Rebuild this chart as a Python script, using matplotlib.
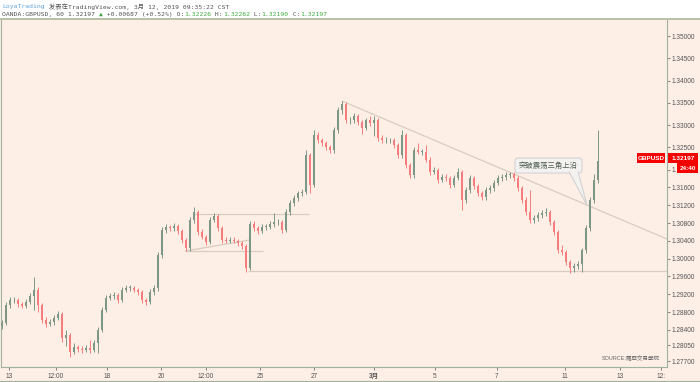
import matplotlib
matplotlib.use("Agg")
import matplotlib.pyplot as plt
from matplotlib.patches import Rectangle, FancyBboxPatch, Polygon
from matplotlib.lines import Line2D
from matplotlib.transforms import IdentityTransform
import numpy as np

plt.rcParams['font.family'] = ['Liberation Sans', 'Noto Sans CJK SC', 'DejaVu Sans']

# ---------------- data (hourly GBPUSD, sampled as bars) ----------------
first_open = 1.2848
closes = [1.2855, 1.2896, 1.2907, 1.2907, 1.2898, 1.2894, 1.2903, 1.2916, 1.2930, 1.2896,
          1.2862, 1.2853, 1.2858, 1.2867, 1.2876, 1.2822, 1.2828, 1.2790, 1.2802, 1.2797,
          1.2795, 1.2799, 1.2795, 1.2811, 1.2840, 1.2885, 1.2912, 1.2916, 1.2918, 1.2907,
          1.2930, 1.2934, 1.2934, 1.2930, 1.2925, 1.2907, 1.2903, 1.2925, 1.2934, 1.3008,
          1.3064, 1.3071, 1.3069, 1.3073, 1.3062, 1.3042, 1.3024, 1.3087, 1.3105, 1.3060,
          1.3049, 1.3037, 1.3087, 1.3096, 1.3069, 1.3042, 1.3040, 1.3042, 1.3040, 1.3035,
          1.3028, 1.2979, 1.3078, 1.3069, 1.3062, 1.3071, 1.3071, 1.3078, 1.3082, 1.3082,
          1.3064, 1.3105, 1.3125, 1.3136, 1.3147, 1.3150, 1.3233, 1.3165, 1.3278, 1.3266,
          1.3260, 1.3251, 1.3244, 1.3289, 1.3334, 1.3347, 1.3311, 1.3311, 1.3320, 1.3307,
          1.3293, 1.3311, 1.3305, 1.3311, 1.3271, 1.3266, 1.3266, 1.3266, 1.3255, 1.3233,
          1.3278, 1.3210, 1.3188, 1.3244, 1.3240, 1.3240, 1.3222, 1.3195, 1.3199, 1.3177,
          1.3183, 1.3181, 1.3165, 1.3181, 1.3195, 1.3132, 1.3154, 1.3181, 1.3163, 1.3147,
          1.3138, 1.3154, 1.3159, 1.3170, 1.3181, 1.3183, 1.3188, 1.3190, 1.3181, 1.3159,
          1.3132, 1.3105, 1.3087, 1.3091, 1.3098, 1.3103, 1.3105, 1.3082, 1.3060, 1.3019,
          1.3015, 1.2992, 1.2979, 1.2983, 1.2988, 1.3019, 1.3069, 1.3132, 1.3177, 1.3220]
highs = [1.2862, 1.2903, 1.2914, 1.2913, 1.2912, 1.2903, 1.2909, 1.2922, 1.2959, 1.2936,
         1.2900, 1.2868, 1.2864, 1.2873, 1.2882, 1.2880, 1.2839, 1.2832, 1.2810, 1.2807,
         1.2803, 1.2806, 1.2817, 1.2817, 1.2846, 1.2892, 1.2918, 1.2922, 1.2925, 1.2922,
         1.2937, 1.2940, 1.2940, 1.2939, 1.2935, 1.2929, 1.2912, 1.2931, 1.2941, 1.3014,
         1.3070, 1.3078, 1.3076, 1.3080, 1.3077, 1.3066, 1.3046, 1.3093, 1.3116, 1.3110,
         1.3066, 1.3054, 1.3093, 1.3103, 1.3100, 1.3073, 1.3049, 1.3049, 1.3048, 1.3045,
         1.3040, 1.3032, 1.3085, 1.3084, 1.3074, 1.3078, 1.3078, 1.3084, 1.3103, 1.3089,
         1.3087, 1.3111, 1.3131, 1.3142, 1.3153, 1.3157, 1.3244, 1.3238, 1.3289, 1.3284,
         1.3272, 1.3265, 1.3256, 1.3295, 1.3340, 1.3354, 1.3351, 1.3318, 1.3326, 1.3324,
         1.3312, 1.3317, 1.3320, 1.3320, 1.3316, 1.3277, 1.3273, 1.3272, 1.3271, 1.3259,
         1.3289, 1.3282, 1.3215, 1.3250, 1.3260, 1.3247, 1.3255, 1.3228, 1.3206, 1.3204,
         1.3190, 1.3189, 1.3186, 1.3188, 1.3203, 1.3200, 1.3160, 1.3188, 1.3186, 1.3168,
         1.3153, 1.3160, 1.3166, 1.3177, 1.3187, 1.3190, 1.3194, 1.3195, 1.3195, 1.3186,
         1.3164, 1.3138, 1.3154, 1.3098, 1.3105, 1.3109, 1.3114, 1.3110, 1.3087, 1.3065,
         1.3030, 1.3020, 1.2997, 1.2990, 1.2995, 1.3025, 1.3076, 1.3139, 1.3190, 1.3289]
lows = [1.2843, 1.2850, 1.2890, 1.2900, 1.2892, 1.2888, 1.2889, 1.2898, 1.2885, 1.2880,
        1.2855, 1.2846, 1.2848, 1.2852, 1.2862, 1.2812, 1.2804, 1.2779, 1.2785, 1.2790,
        1.2789, 1.2790, 1.2788, 1.2790, 1.2788, 1.2835, 1.2880, 1.2906, 1.2910, 1.2900,
        1.2902, 1.2925, 1.2927, 1.2924, 1.2918, 1.2901, 1.2896, 1.2898, 1.2918, 1.2928,
        1.3002, 1.3058, 1.3062, 1.3063, 1.3056, 1.3036, 1.3017, 1.3018, 1.3080, 1.3054,
        1.3043, 1.3030, 1.3032, 1.3082, 1.3062, 1.3036, 1.3034, 1.3035, 1.3034, 1.3029,
        1.3021, 1.2970, 1.2975, 1.3063, 1.3056, 1.3057, 1.3065, 1.3066, 1.3072, 1.3075,
        1.3057, 1.3059, 1.3099, 1.3118, 1.3130, 1.3141, 1.3145, 1.3147, 1.3160, 1.3260,
        1.3254, 1.3245, 1.3238, 1.3238, 1.3283, 1.3325, 1.3305, 1.3303, 1.3305, 1.3300,
        1.3280, 1.3288, 1.3298, 1.3275, 1.3265, 1.3260, 1.3259, 1.3259, 1.3249, 1.3227,
        1.3227, 1.3204, 1.3181, 1.3182, 1.3234, 1.3233, 1.3216, 1.3188, 1.3189, 1.3171,
        1.3172, 1.3174, 1.3158, 1.3160, 1.3176, 1.3110, 1.3125, 1.3148, 1.3157, 1.3140,
        1.3131, 1.3132, 1.3148, 1.3153, 1.3165, 1.3175, 1.3177, 1.3182, 1.3175, 1.3152,
        1.3125, 1.3098, 1.3081, 1.3080, 1.3085, 1.3092, 1.3096, 1.3075, 1.3053, 1.3012,
        1.3008, 1.2985, 1.2968, 1.2970, 1.2977, 1.2970, 1.3012, 1.3062, 1.3125, 1.3170]

x_tick_pos = [1.75, 13.5, 26.25, 39.75, 51.0, 64.5, 78.0, 93.0, 108.25, 123.75, 140.75, 154.5, 164.75]
x_tick_labels = ["13", "12:00", "18", "20", "12:00", "25", "27", "3月", "5", "7", "11", "13", "12:"]
y_tick_vals = [1.35, 1.345, 1.34, 1.335, 1.33, 1.325, 1.32, 1.316, 1.312, 1.308, 1.304,
               1.300, 1.296, 1.292, 1.288, 1.284, 1.2805, 1.277]
# the 1.32000 label is hidden behind the countdown box; only "1." shows
y_tick_labels = ["1.35000", "1.34500", "1.34000", "1.33500", "1.33000", "1.32500", "1.",
                 "1.31600", "1.31200", "1.30800", "1.30400", "1.30000", "1.29600", "1.29200",
                 "1.28800", "1.28400", "1.28050", "1.27700"]

# drawing objects (bar index, price)
triangle_top = [(47.75, 1.3100), (76.75, 1.3100)]
triangle_slope = [(45.75, 1.3017), (62.0, 1.3042)]
triangle_base = [(45.75, 1.3017), (65.25, 1.3017)]
support_line = [(61.5, 1.2972), (166.25, 1.2972)]
down_trend = [(85.0, 1.3354), (166.25, 1.3044)]

last_price = "1.32197"
symbol = "GBPUSD"
countdown = "24:40"
callout_text = "突破震荡三角上沿"
callout_target = (146.25, 1.3120)

BG = "#fdeee6"
UP = "#7d9786"
DOWN = "#f57d7d"
DRAW = "#d8cdbf"
AX = "#9fb39f"
W, H = 700, 382

fig = plt.figure(figsize=(7, 3.82), dpi=100, facecolor=BG)
ax = fig.add_axes([1 / W, 15 / H, 666 / W, 347 / H])
ax.set_facecolor(BG)

# candles
closes_a = np.array(closes)
opens_a = np.concatenate([[first_open], closes_a[:-1]])
highs_a = np.array(highs)
lows_a = np.array(lows)
idx = np.arange(len(closes_a))
up = closes_a >= opens_a
cols = np.where(up, UP, DOWN)
ax.vlines(idx, lows_a, highs_a, colors=cols, linewidth=0.7, zorder=3)
body_lo = np.minimum(opens_a, closes_a)
body_h = np.maximum(np.abs(closes_a - opens_a), 0.00012)
ax.bar(idx, body_h, bottom=body_lo, width=0.7, color=cols, linewidth=0, zorder=3)

for seg in [triangle_top, triangle_slope, triangle_base, support_line, down_trend]:
    xs, ys = zip(*seg)
    ax.plot(xs, ys, color=DRAW, linewidth=0.9, zorder=2, solid_capstyle='butt')

ax.set_xlim(-0.25, 166.25)
ax.set_ylim(1.27566, 1.35360)

ax.yaxis.tick_right()
ax.set_yticks(y_tick_vals)
ax.set_yticklabels(y_tick_labels)
ax.set_xticks(x_tick_pos)
ax.set_xticklabels(x_tick_labels)
ax.tick_params(axis='y', labelsize=4.7, colors='#555555', length=2, width=0.5, pad=1.5)
ax.tick_params(axis='x', labelsize=4.7, colors='#555555', length=2, width=0.5, pad=2.5)
for lab in ax.get_xticklabels():
    if lab.get_text() == "3月":
        lab.set_fontweight('bold')
for side in ['left', 'right', 'bottom']:
    ax.spines[side].set_color(AX)
    ax.spines[side].set_linewidth(0.8)
ax.spines['top'].set_visible(False)

def P(x, y):
    return (x / W, 1 - y / H)

# header
fig.add_artist(Rectangle(P(0, 18.5), 1, 18.5 / H, transform=fig.transFigure,
                         facecolor='white', edgecolor='none', zorder=0.5))
fig.add_artist(Line2D([0, 1], [1 - 18.8 / H] * 2, transform=fig.transFigure,
                      color='#b9c0a8', linewidth=1.4))
fig.add_artist(Line2D([0, 1], [0.6 / H] * 2, transform=fig.transFigure,
                      color=AX, linewidth=0.8))

hdr_font = ['DejaVu Sans Mono', 'Noto Sans CJK SC']
line1 = [("LoyaTrading", "#5da2d8"), (" 发表在TradingView.com, 3月 12, 2019 09:35:22 CST", "#555555")]
line2 = [("OANDA:GBPUSD, 60 1.32197 ", "#555555"), ("▲", "#3f9f3f"), (" +0.00687 (+0.52%) O:", "#555555"),
         ("1.32226", "#3fae3f"), (" H:", "#555555"), ("1.32262", "#3fae3f"), (" L:", "#555555"),
         ("1.32190", "#3fae3f"), (" C:", "#555555"), ("1.32197", "#3fae3f")]
fig.canvas.draw()
renderer = fig.canvas.get_renderer()
for segs, yy in [(line1, 6.5), (line2, 14.5)]:
    xx = 2
    for s, c in segs:
        t = fig.text(*P(xx, yy), s, fontsize=4.55, color=c, family=hdr_font, va='center', ha='left')
        bb = t.get_window_extent(renderer)
        xx += bb.width

# price labels
def redbox(x0, y0, x1, y1, txt):
    fig.add_artist(Rectangle(P(x0, y1), (x1 - x0) / W, (y1 - y0) / H, transform=fig.transFigure,
                             facecolor='#f40000', edgecolor='none', zorder=5))
    fig.text(*P((x0 + x1) / 2, (y0 + y1) / 2 + 0.3), txt, color='white', fontsize=4.6,
             ha='center', va='center', zorder=6, fontweight='bold')

redbox(637, 153, 665, 163, symbol)
redbox(668, 153, 698, 163, last_price)
redbox(677, 163, 698, 173, countdown)

# callout
idt = IdentityTransform()
box = FancyBboxPatch((515, H - 173), 67, 15, boxstyle="round,pad=0,rounding_size=3",
                     facecolor='#f4f2f0', edgecolor='#d3d3d3', linewidth=0.8,
                     transform=idt, zorder=6)
fig.add_artist(box)
tx, ty = ax.transData.transform(callout_target)
tail = Polygon([(569, H - 171.5), (tx, ty), (578, H - 171.5)], closed=False,
               facecolor='#f4f2f0', edgecolor='#d3d3d3', linewidth=0.8, transform=idt, zorder=7)
fig.add_artist(tail)
fig.text(*P(548.5, 165.5), callout_text, fontsize=5.3, color='#4d5c52', ha='center', va='center',
         family=['Noto Sans CJK SC', 'DejaVu Sans'], zorder=8)

# watermark
fig.text(*P(660, 358), "SOURCE:羅亞交易學院", fontsize=4.0, color='#666666', ha='right', va='center',
         family=['Liberation Sans', 'Noto Sans CJK TC'])

fig.savefig("out.png", dpi=100, facecolor=BG)
